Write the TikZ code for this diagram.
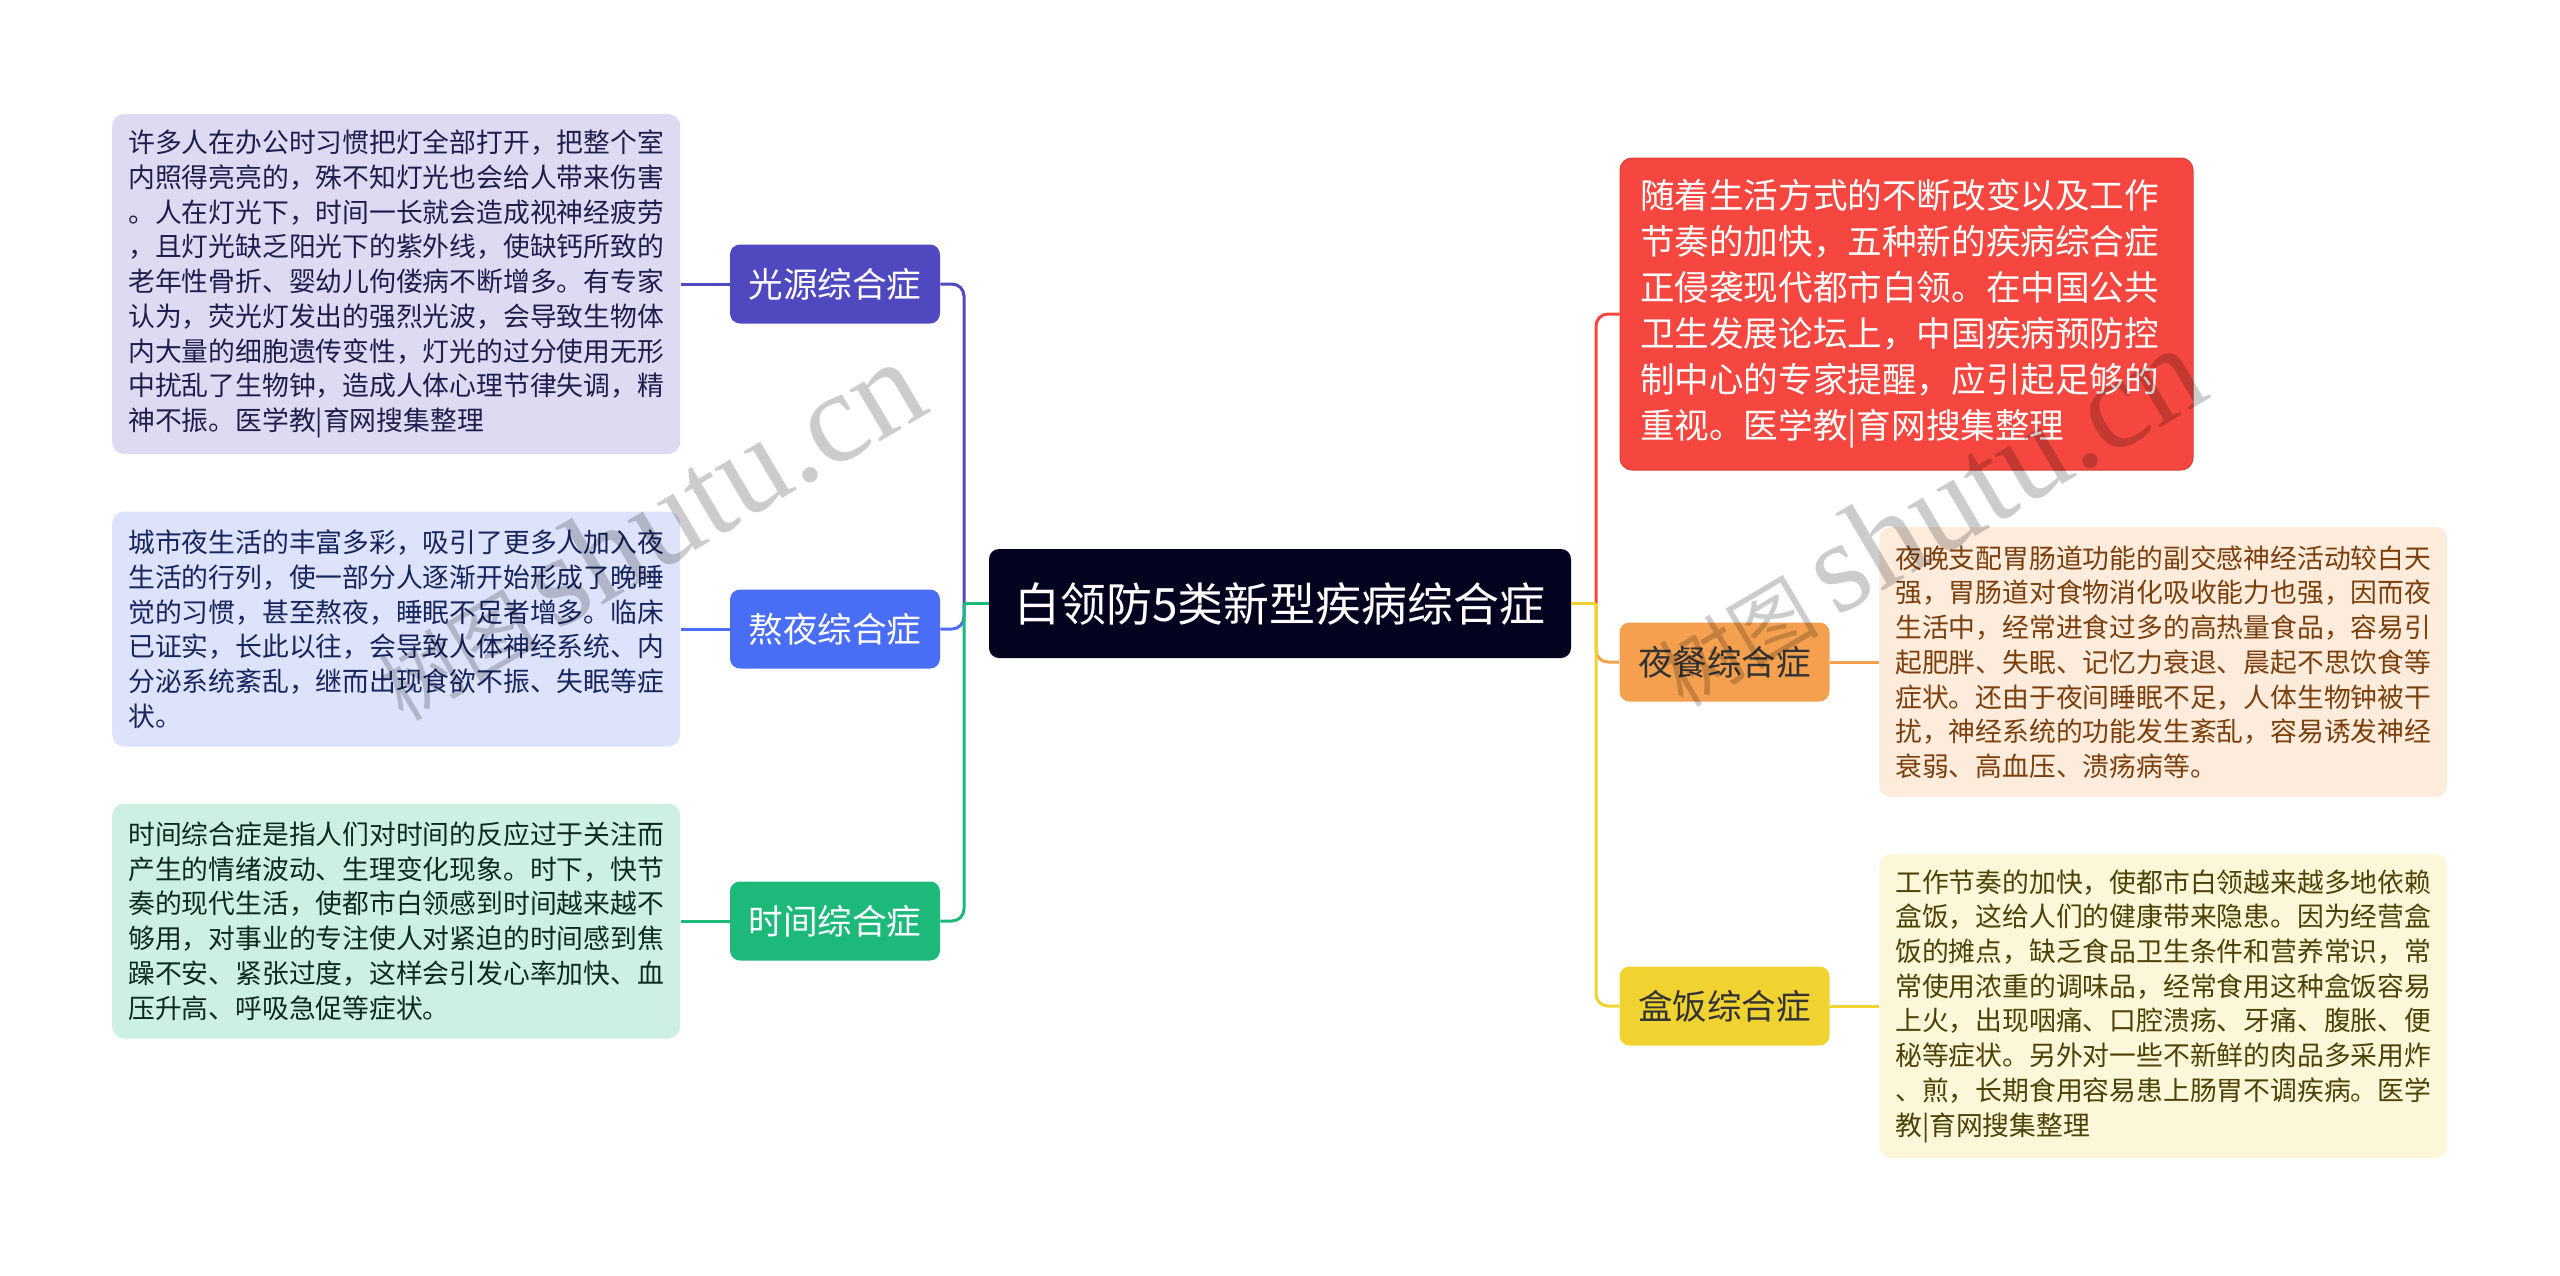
\documentclass[tikz,border=0pt]{standalone}
\usepackage{fontspec}
\setmainfont{Noto Sans CJK SC}
\newfontfamily\wmfont{Liberation Serif}
\usepackage{xcolor}
\usepackage{tikz}
\usetikzlibrary{positioning}

\definecolor{cRoot}{HTML}{03031F}
\definecolor{cGy}{HTML}{5048BF}
\definecolor{cGyBox}{HTML}{DCDBF1}
\definecolor{cGyText}{HTML}{1F1D4D}
\definecolor{cAy}{HTML}{4A6DF6}
\definecolor{cAyBox}{HTML}{DCE3FB}
\definecolor{cAyText}{HTML}{17245E}
\definecolor{cSj}{HTML}{1DB97B}
\definecolor{cSjBox}{HTML}{CEF0E2}
\definecolor{cSjText}{HTML}{0C2A1D}
\definecolor{cRed}{HTML}{F5473F}
\definecolor{cYc}{HTML}{F4A04E}
\definecolor{cYcBox}{HTML}{FDEBDC}
\definecolor{cYcText}{HTML}{7B3F0C}
\definecolor{cHf}{HTML}{F0D230}
\definecolor{cHfBox}{HTML}{FCF7D8}
\definecolor{cHfText}{HTML}{4B4205}

\begin{document}
\begin{tikzpicture}[x=0.5pt, y=-0.5pt, node distance=24.5pt,
  topic/.style={rounded corners=5pt, minimum width=105pt, minimum height=39.5pt,
    inner sep=0pt, font=\fontsize{17.3}{20}\selectfont},
  note/.style={rounded corners=6pt, inner xsep=8pt, inner ysep=0pt,
    text width=268pt, align=left, font=\fontsize{13.4}{17.35}\selectfont},
  link/.style={line width=1.5pt, rounded corners=6pt},
  wmark/.style={text=black, text opacity=0.2, rotate=30.5,
    font=\fontsize{40}{40}\selectfont}]

\useasboundingbox (0,0) rectangle (2560,1275);

\node (zhongxin) [fill=cRoot, text=white, rounded corners=5pt, minimum width=291pt,
  minimum height=54.5pt, inner sep=0pt, font=\fontsize{23}{26}\selectfont]
  at (1280,603.5) {白领防5类新型疾病综合症};

\node (guangyuan) [topic, fill=cGy, text=white] at (835,284) {光源综合症};
\node (aoye) [topic, fill=cAy, text=white] at (835,629) {熬夜综合症};
\node (shijian) [topic, fill=cSj, text=white] at (835,921) {时间综合症};
\node (yecan) [topic, fill=cYc, text=black!80] at (1724.5,662) {夜餐综合症};
\node (hefan) [topic, fill=cHf, text=black!80] at (1724.5,1006) {盒饭综合症};

\node (intro) [fill=cRed, draw=cRed!88!black, line width=0.5pt, text=white,
  rounded corners=6pt, inner xsep=10pt, inner ysep=0pt, text width=266.5pt,
  minimum height=156pt, align=left, font=\fontsize{17.3}{23}\selectfont]
  at (1906.5,314) {随着生活方式的不断改变以及工作\\
节奏的加快，五种新的疾病综合症\\
正侵袭现代都市白领。在中国公共\\
卫生发展论坛上，中国疾病预防控\\
制中心的专家提醒，应引起足够的\\
重视。医学教|育网搜集整理};

\node (guangyuantxt) [note, left=of guangyuan, fill=cGyBox, text=cGyText,
  minimum height=170pt] {许多人在办公时习惯把灯全部打开，把整个室\\
内照得亮亮的，殊不知灯光也会给人带来伤害\\
。人在灯光下，时间一长就会造成视神经疲劳\\
，且灯光缺乏阳光下的紫外线，使缺钙所致的\\
老年性骨折、婴幼儿佝偻病不断增多。有专家\\
认为，荧光灯发出的强烈光波，会导致生物体\\
内大量的细胞遗传变性，灯光的过分使用无形\\
中扰乱了生物钟，造成人体心理节律失调，精\\
神不振。医学教|育网搜集整理};

\node (aoyetxt) [note, left=of aoye, fill=cAyBox, text=cAyText,
  minimum height=117.5pt] {城市夜生活的丰富多彩，吸引了更多人加入夜\\
生活的行列，使一部分人逐渐开始形成了晚睡\\
觉的习惯，甚至熬夜，睡眠不足者增多。临床\\
已证实，长此以往，会导致人体神经系统、内\\
分泌系统紊乱，继而出现食欲不振、失眠等症\\
状。};

\node (shijiantxt) [note, left=of shijian, fill=cSjBox, text=cSjText,
  minimum height=117.5pt] {时间综合症是指人们对时间的反应过于关注而\\
产生的情绪波动、生理变化现象。时下，快节\\
奏的现代生活，使都市白领感到时间越来越不\\
够用，对事业的专注使人对紧迫的时间感到焦\\
躁不安、紧张过度，这样会引发心率加快、血\\
压升高、呼吸急促等症状。};

\node (yecantxt) [note, right=of yecan, fill=cYcBox, text=cYcText,
  minimum height=135pt] {夜晚支配胃肠道功能的副交感神经活动较白天\\
强，胃肠道对食物消化吸收能力也强，因而夜\\
生活中，经常进食过多的高热量食品，容易引\\
起肥胖、失眠、记忆力衰退、晨起不思饮食等\\
症状。还由于夜间睡眠不足，人体生物钟被干\\
扰，神经系统的功能发生紊乱，容易诱发神经\\
衰弱、高血压、溃疡病等。};

\node (hefantxt) [note, right=of hefan, fill=cHfBox, text=cHfText,
  minimum height=152pt] {工作节奏的加快，使都市白领越来越多地依赖\\
盒饭，这给人们的健康带来隐患。因为经营盒\\
饭的摊点，缺乏食品卫生条件和营养常识，常\\
常使用浓重的调味品，经常食用这种盒饭容易\\
上火，出现咽痛、口腔溃疡、牙痛、腹胀、便\\
秘等症状。另外对一些不新鲜的肉品多采用炸\\
、煎，长期食用容易患上肠胃不调疾病。医学\\
教|育网搜集整理};

\coordinate (jl) at (964,603.5);
\coordinate (jr) at (1596,603.5);

\draw[link, cGy] (guangyuan.east) -| (jl);
\draw[link, cAy] (aoye.east) -| (jl);
\draw[link, cSj] (shijian.east) -| (jl);
\draw[line width=1.5pt, cSj] (jl) -- (zhongxin.west);

\draw[link, cRed] (intro.west) -| (jr);
\draw[link, cYc] (yecan.west) -| (jr);
\draw[link, cHf] (hefan.west) -| (jr);
\draw[line width=1.5pt, cHf] (jr) -- (zhongxin.east);

\draw[line width=1.5pt, cGy] (guangyuan.west) -- (guangyuantxt.east);
\draw[line width=1.5pt, cAy] (aoye.west) -- (aoyetxt.east);
\draw[line width=1.5pt, cSj] (shijian.west) -- (shijiantxt.east);
\draw[line width=1.5pt, cYc] (yecan.east) -- (yecantxt.west);
\draw[line width=1.5pt, cHf] (hefan.east) -- (hefantxt.west);

\node (wmleft) [wmark] at (647,530) {树图 {\wmfont\fontsize{65}{65}\selectfont shutu.cn}};
\node (wmright) [wmark] at (1927,516) {树图 {\wmfont\fontsize{65}{65}\selectfont shutu.cn}};
\end{tikzpicture}
\end{document}
